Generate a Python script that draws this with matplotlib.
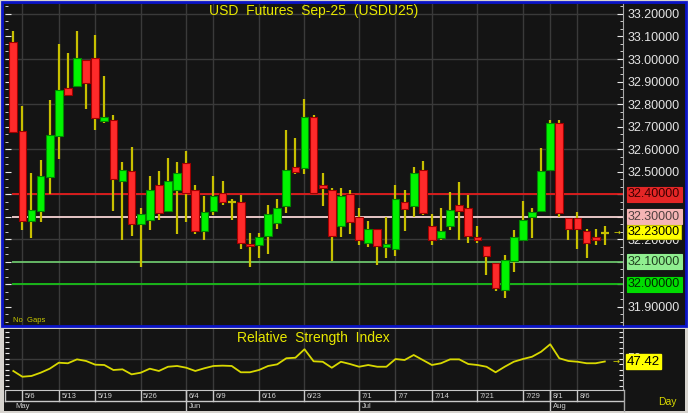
import numpy as np
import matplotlib.pyplot as plt
import matplotlib.transforms as mtransforms
from matplotlib.patches import Rectangle
from matplotlib.lines import Line2D
from matplotlib.ticker import FixedLocator, MultipleLocator, FuncFormatter

plt.rcParams['font.family'] = ['Liberation Sans', 'DejaVu Sans']

# daily OHLC, USD futures Sep-25, 2 May .. 11 Aug
opens = [33.077, 32.682, 32.283, 32.325, 32.478, 32.659, 32.872, 32.881, 32.996, 33.004,
         32.727, 32.730, 32.458, 32.501, 32.270, 32.285, 32.440, 32.325, 32.418, 32.540,
         32.419, 32.237, 32.325, 32.407, 32.366, 32.367, 32.180, 32.177, 32.217, 32.271,
         32.350, 32.521, 32.518, 32.742, 32.441, 32.419, 32.257, 32.400, 32.298, 32.184,
         32.246, 32.168, 32.156, 32.367, 32.350, 32.508, 32.258, 32.206, 32.257, 32.351,
         32.339, 32.209, 32.169, 32.094, 31.974, 32.104, 32.196, 32.299, 32.325, 32.506,
         32.714, 32.296, 32.296, 32.239, 32.209, 32.228]
highs = [33.126, 32.792, 32.493, 32.551, 32.817, 33.066, 33.026, 33.126, 32.996, 33.107,
         32.925, 32.750, 32.542, 32.610, 32.339, 32.481, 32.501, 32.563, 32.542, 32.592,
         32.441, 32.393, 32.481, 32.461, 32.381, 32.396, 32.227, 32.227, 32.353, 32.379,
         32.683, 32.650, 32.823, 32.751, 32.493, 32.427, 32.427, 32.419, 32.339, 32.280,
         32.246, 32.298, 32.441, 32.419, 32.521, 32.549, 32.311, 32.339, 32.409, 32.453,
         32.397, 32.258, 32.169, 32.094, 32.131, 32.240, 32.369, 32.339, 32.603, 32.730,
         32.730, 32.296, 32.320, 32.246, 32.246, 32.259]
lows = [32.678, 32.242, 32.206, 32.276, 32.400, 32.558, 32.839, 32.881, 32.779, 32.685,
        32.718, 32.325, 32.197, 32.217, 32.076, 32.243, 32.285, 32.325, 32.224, 32.277,
        32.224, 32.197, 32.310, 32.351, 32.285, 32.156, 32.076, 32.116, 32.137, 32.245,
        32.317, 32.489, 32.489, 32.399, 32.350, 32.106, 32.209, 32.224, 32.177, 32.168,
        32.088, 32.116, 32.128, 32.237, 32.298, 32.310, 32.177, 32.197, 32.243, 32.197,
        32.184, 32.184, 32.042, 31.973, 31.941, 32.054, 32.196, 32.208, 32.325, 32.506,
        32.301, 32.196, 32.156, 32.116, 32.175, 32.175]
closes = [32.678, 32.283, 32.329, 32.481, 32.663, 32.863, 32.839, 33.004, 32.893, 32.740,
          32.742, 32.467, 32.508, 32.270, 32.313, 32.419, 32.319, 32.461, 32.493, 32.407,
          32.237, 32.320, 32.393, 32.366, 32.366, 32.184, 32.169, 32.211, 32.313, 32.339,
          32.508, 32.499, 32.743, 32.406, 32.427, 32.217, 32.393, 32.279, 32.197, 32.246,
          32.169, 32.178, 32.379, 32.336, 32.493, 32.319, 32.197, 32.239, 32.328, 32.326,
          32.217, 32.197, 32.128, 31.983, 32.107, 32.211, 32.288, 32.320, 32.501, 32.714,
          32.319, 32.245, 32.245, 32.184, 32.196, 32.230]
rsi = [38.7, 33.4, 34.1, 37.1, 40.8, 46.3, 45.8, 49.4, 47.9, 44.5,
       44.2, 39.6, 40.2, 35.6, 37.1, 40.8, 38.7, 42.6, 43.3, 41.7,
       38.7, 41.2, 43.3, 43.6, 43.3, 37.5, 37.5, 39.6, 43.3, 44.8,
       50.4, 50.9, 58.7, 47.6, 47.2, 41.7, 47.2, 45.1, 42.6, 44.2,
       42.6, 42.6, 49.7, 48.8, 53.4, 48.8, 44.2, 45.8, 49.4, 49.4,
       45.1, 44.2, 42.6, 37.5, 42.6, 47.2, 49.7, 51.8, 56.4, 63.3,
       50.4, 47.9, 47.2, 45.8, 45.8, 47.42]

tick_idx = [1, 5, 9, 14, 19, 22, 27, 32, 38, 42, 46, 51, 56, 59, 62]
tick_lbl = ["5/6", "5/13", "5/19", "5/26", "6/4", "6/9", "6/16", "6/23",
            "7/1", "7/7", "7/14", "7/21", "7/29", "8/1", "8/6"]
month_idx = [0, 19, 38, 59]
month_lbl = ["May", "Jun", "Jul", "Aug"]

level_prices = [32.40, 32.30, 32.10, 32.00]
level_colors = ['#e41c1c', '#f6d4d4', '#6cc46c', '#18c018']
level_box = ['#e42626', '#f5b5b5', '#90ee90', '#00dc00']
level_text = ['#3a0000', '#504040', '#204020', '#002800']
last_price = 32.23
last_rsi = 47.42

W, H = 688, 413
BG = '#141414'
GRID = '#3a3a3a'
YEL = '#d8d800'

fig = plt.figure(figsize=(W / 100, H / 100), dpi=100)
fig.patch.set_facecolor('#d6d3ce')


def fx(px):
    return px / W


def fy(py):
    return 1 - py / H


def prect(x0, y0, x1, y1, **kw):
    return Rectangle((fx(x0), fy(y1)), (x1 - x0) / W, (y1 - y0) / H,
                     transform=fig.transFigure, **kw)


def fline(xs, ys, **kw):
    fig.add_artist(Line2D([fx(v) for v in xs], [fy(v) for v in ys],
                          transform=fig.transFigure, **kw))


# panel backgrounds (behind the axes)
fig.patches.append(prect(2, 2, 685.5, 325.5, facecolor=BG, edgecolor='#0a14c8', lw=2, zorder=-2))
fig.patches.append(prect(4, 329, 685, 411, facecolor=BG, edgecolor='none', zorder=-2))

x = np.arange(len(closes))
o = np.array(opens)
c = np.array(closes)
xlim = (-0.912, 67.0)

# ---- price panel
ax = fig.add_axes([fx(5), fy(325), 618 / W, 321 / H])
ax.set_facecolor(BG)
ax.set_xlim(*xlim)
ax.set_ylim(31.820, 33.244)

for i in tick_idx:
    ax.axvline(i, color=GRID, lw=1, zorder=1)
for p in np.arange(32.0, 33.21, 0.2):
    ax.axhline(p, color=GRID, lw=1, zorder=1)

ax.hlines(level_prices, -0.1, xlim[1], colors=level_colors, lw=1.3, zorder=2)

ax.vlines(x, lows, highs, color='#c8c000', lw=1.6, zorder=3)
body_h = np.abs(c - o)
body_b = np.minimum(o, c)
doji = body_h < 0.004
up = (c > o) & ~doji
dn = (c < o) & ~doji
ax.bar(x[up], body_h[up], bottom=body_b[up], width=0.84,
       color='#00f400', edgecolor='#008a00', lw=0.8, zorder=4)
ax.bar(x[dn], body_h[dn], bottom=body_b[dn], width=0.84,
       color='#ff2a2a', edgecolor='#a00000', lw=0.8, zorder=4)
ax.hlines(c[doji], x[doji] - 0.42, x[doji] + 0.42, color='#c8c000', lw=1.6, zorder=4)

ax.yaxis.set_major_locator(FixedLocator(np.round(np.arange(31.9, 33.21, 0.1), 2)))
ax.yaxis.set_major_formatter(FuncFormatter(lambda v, _: f'{v:.5f}'))
ax.yaxis.set_minor_locator(MultipleLocator(0.1 / 3))
ax.tick_params(axis='y', which='both', left=True, right=True, labelleft=False,
               labelright=True, direction='in', color='#e8e8e8', labelcolor='#e4e4e4',
               labelsize=9, pad=3.5)
ax.tick_params(axis='y', which='major', length=4)
ax.tick_params(axis='y', which='minor', length=2)
ax.tick_params(axis='x', bottom=False, labelbottom=False)
for s in ['top', 'left', 'bottom']:
    ax.spines[s].set_visible(False)
ax.spines['right'].set_color('#a8a8a8')

bt = mtransforms.blended_transform_factory(ax.transAxes, ax.transData)
for p, bc, tc in zip(level_prices, level_box, level_text):
    ax.text(1 + 5 / 618, p, f'{p:.5f}', transform=bt, ha='left', va='center',
            fontsize=9, color=tc, clip_on=False, zorder=6,
            bbox=dict(boxstyle='square,pad=0.12', fc=bc, ec=bc, lw=0.8))
ax.text(1 + 5 / 618, last_price + 0.004, f'{last_price:.5f}', transform=bt, ha='left',
        va='center', fontsize=9, color='#000000', clip_on=False, zorder=7,
        bbox=dict(boxstyle='square,pad=0.08', fc='#ffff00', ec='#c8c800', lw=0.8))
ax.text(1 - 6 / 618, last_price, '\u2192', transform=bt, ha='center', va='center',
        fontsize=6, color=YEL, family='DejaVu Sans', clip_on=False, zorder=7)

fig.text(fx(314), fy(11), 'USD  Futures  Sep-25  (USDU25)', ha='center', va='center',
         fontsize=10, color='#e8e800')
fig.text(fx(13), fy(320), 'No  Gaps', ha='left', va='center', fontsize=5.5, color='#c8c800')

# ---- RSI panel
ax2 = fig.add_axes([fx(5), fy(390), 618 / W, 61 / H])
ax2.set_facecolor(BG)
ax2.set_xlim(*xlim)
ax2.set_ylim(21.18, 77.35)
for i in tick_idx:
    ax2.axvline(i, color=GRID, lw=1, zorder=1)
ax2.axhline(50, color=GRID, lw=1, zorder=1)
ax2.plot(x, rsi, color=YEL, lw=1.3, zorder=3)
ax2.yaxis.set_major_locator(FixedLocator(np.arange(25, 76, 5)))
ax2.tick_params(axis='y', left=True, right=True, labelleft=False, labelright=False,
                direction='in', color='#e8e8e8', length=3)
ax2.tick_params(axis='x', bottom=False, labelbottom=False)
for s in ['top', 'left']:
    ax2.spines[s].set_visible(False)
ax2.spines['bottom'].set_color('#c8c8c8')
ax2.spines['right'].set_color('#a8a8a8')

fig.text(fx(313), fy(338), 'Relative  Strength  Index', ha='center', va='center',
         fontsize=10, color='#e8e800')

bt2 = mtransforms.blended_transform_factory(ax2.transAxes, ax2.transData)
ax2.text(1 + 5 / 618, 50, '50', transform=bt2, ha='left', va='center', fontsize=9,
         color='#e0e0e0', clip_on=False, zorder=5)
ax2.text(1 + 4 / 618, last_rsi, f'{last_rsi:.2f}', transform=bt2, ha='left', va='center',
         fontsize=9.5, color='#000000', clip_on=False, zorder=7,
         bbox=dict(boxstyle='square,pad=0.1', fc='#ffff00', ec='#ffff00'))
ax2.text(1 - 7 / 618, last_rsi, '\u2192', transform=bt2, ha='center', va='center',
         fontsize=6, color=YEL, family='DejaVu Sans', clip_on=False, zorder=7)

# date rows under the RSI panel
tr = mtransforms.blended_transform_factory(ax2.transData, fig.transFigure)
tr_txt = mtransforms.offset_copy(tr, fig=fig, x=2.5, y=0, units='dots')
LC = '#c8c8c8'
fline([5, 623], [401, 401], color=LC, lw=1)
fline([5, 5], [391, 401], color=LC, lw=1)
fline([624, 624], [390, 411], color='#a8a8a8', lw=1)
for i, lb in zip(tick_idx, tick_lbl):
    fig.add_artist(Line2D([i, i], [fy(391), fy(401)], transform=tr, color=LC, lw=1))
    fig.text(i, fy(396.5), lb, transform=tr_txt, ha='left', va='center',
             fontsize=5.5, color='#d0d0d0')
for i, lb in zip(month_idx, month_lbl):
    if i > 0:
        fig.add_artist(Line2D([i, i], [fy(391), fy(411)], transform=tr, color=LC, lw=1))
    fig.text(i, fy(406), lb, transform=tr_txt, ha='left', va='center',
             fontsize=5.5, color='#d0d0d0')

fig.text(fx(667), fy(402), 'Day', ha='center', va='center', fontsize=7.5, color=YEL)

fig.savefig('out.png', dpi=100, facecolor=fig.get_facecolor())
